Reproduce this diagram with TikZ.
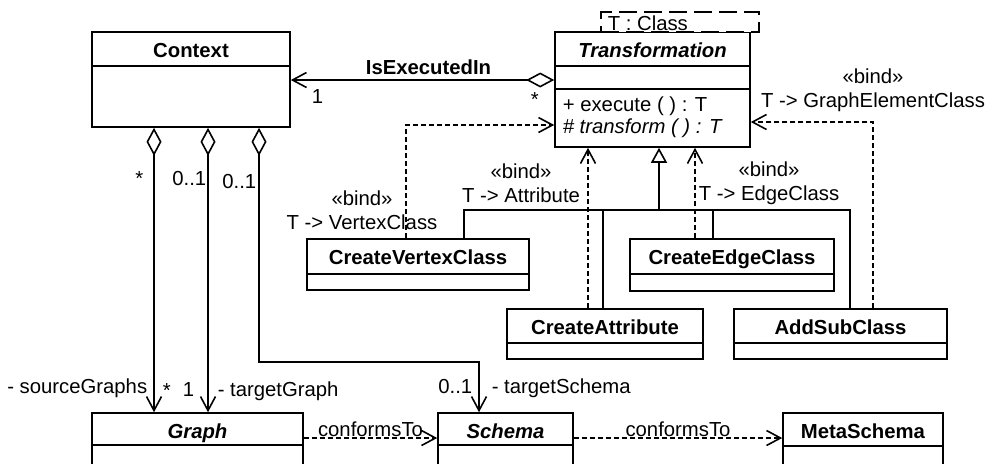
\documentclass[tikz,border=0pt]{standalone}
\usepackage{fontspec}
\setmainfont{Liberation Sans}
\usepackage{tikz}
\usetikzlibrary{arrows.meta,fit}

\begin{document}
\begin{tikzpicture}[x=0.5pt,y=-0.5pt,line width=0.8pt,
  every node/.style={font=\fontsize{10.15pt}{12pt}\selectfont,inner sep=0pt},
  cls/.style={draw,fill=white,inner sep=0pt},
  title/.style={anchor=base,yshift=-13pt},
  dep/.style={dash pattern=on 2.5pt off 1.5pt,-{Straight Barb[length=7pt,width=7.5pt]}},
  aggr/.style={{Diamond[open,length=14pt,width=7.5pt]}-{Straight Barb[length=7pt,width=7.5pt]}},
  gen/.style={-{Triangle[open,length=7.5pt,width=8pt]}}]
  \useasboundingbox (0,0) rectangle (989,463);
  \clip (0,0) rectangle (989,463);
  \node[cls,fit={(92,32) (290,127)}] (ctx) {};
  \draw (92,66) -- (290,66);
  \node[title] (ctxname) at (ctx.north) {\textbf{Context}};
  \node[cls,fit={(555,32) (750,147)}] (tr) {};
  \draw (555,66) -- (750,66);
  \draw (555,89) -- (750,89);
  \node[title] (trname) at (tr.north) {\textbf{\textit{Transformation}}};
  \node[anchor=base west] (opexec) at (562,111) {+ execute ( ) : T};
  \node[anchor=base west] (optrans) at (562,133) {\textit{\# transform ( ) : T}};
  \node[cls,dash pattern=on 9pt off 3.5pt,fit={(601,12) (759,32)}] (tbox) {};
  \node[anchor=base west] (tparam) at (607,30) {T : Class};
  \node[cls,fit={(307,239) (529,290)}] (cvc) {};
  \draw (307,274) -- (529,274);
  \node[title] (cvcname) at (cvc.north) {\textbf{CreateVertexClass}};
  \node[cls,fit={(630,239) (834,291)}] (cec) {};
  \draw (630,274) -- (834,274);
  \node[title] (cecname) at (cec.north) {\textbf{CreateEdgeClass}};
  \node[cls,fit={(507,309) (703,359)}] (ca) {};
  \draw (507,343) -- (703,343);
  \node[title] (caname) at (ca.north) {\textbf{CreateAttribute}};
  \node[cls,fit={(734,309) (947,359)}] (asc) {};
  \draw (734,343) -- (947,343);
  \node[title] (ascname) at (asc.north) {\textbf{AddSubClass}};
  \node[cls,fit={(92,413) (303,480)}] (graph) {};
  \draw (92,445) -- (303,445);
  \node[title] (graphname) at (graph.north) {\textbf{\textit{Graph}}};
  \node[cls,fit={(438,413) (573,480)}] (schema) {};
  \draw (438,445) -- (573,445);
  \node[title] (schemaname) at (schema.north) {\textbf{\textit{Schema}}};
  \node[cls,fit={(783,413) (943,480)}] (meta) {};
  \draw (783,446) -- (943,446);
  \node[title] (metaname) at (meta.north) {\textbf{MetaSchema}};

  \coordinate (ie) at (0,80);
  \draw[aggr] (tr.west |- ie) -- node[above=2.5pt,xshift=3pt] (ielabel) {\textbf{IsExecutedIn}} (ctx.east |- ie);
  \node[anchor=base west] (mctx) at (311,103) {1};
  \node[anchor=base west] (mtr) at (530,106) {*};

  \coordinate (a1) at (154,0);
  \coordinate (a2) at (208,0);
  \coordinate (a3) at (259,362);
  \coordinate (a4) at (479,362);
  \draw[aggr] (ctx.south -| a1) -- (graph.north -| a1);
  \draw[aggr] (ctx.south -| a2) -- (graph.north -| a2);
  \draw[aggr] (ctx.south -| a3) -- (a3) -- (a4) -- (schema.north -| a4);
  \node[anchor=base east] (ma1) at (144,185) {*};
  \node[anchor=base east] (ma2) at (207,185) {0..1};
  \node[anchor=base east] (ma3) at (257,188) {0..1};
  \node[anchor=base east] (rsrc) at (148,393) {- sourceGraphs};
  \node[anchor=base west] (msrc) at (162,397) {*};
  \node[anchor=base west] (mtgt) at (182,396) {1};
  \node[anchor=base west] (rtgt) at (217,396) {- targetGraph};
  \node[anchor=base east] (msch) at (473,393) {0..1};
  \node[anchor=base west] (rsch) at (491,393) {- targetSchema};

  \coordinate (b1) at (406,125);
  \coordinate (b2) at (588,0);
  \coordinate (b3) at (695,0);
  \coordinate (b4) at (873,122);
  \draw[dep] (cvc.north -| b1) -- (b1) -- (tr.west |- b1);
  \draw[dep] (ca.north -| b2) -- (tr.south -| b2);
  \draw[dep] (cec.north -| b3) -- (tr.south -| b3);
  \draw[dep] (asc.north -| b4) -- (b4) -- (tr.east |- b4);
  \node[align=center] (bindvc) at (362,210) {«bind»\\T -> VertexClass};
  \node[align=center] (bindat) at (521,183) {«bind»\\T -> Attribute};
  \node[align=center] (bindec) at (769,183) {«bind»\\T -> EdgeClass};
  \node[align=center] (bindge) at (873,90) {«bind»\\T -> GraphElementClass};

  \coordinate (g0) at (659,210);
  \coordinate (g1) at (464,210);
  \coordinate (g2) at (603,210);
  \coordinate (g3) at (713,210);
  \coordinate (g4) at (850,210);
  \draw[gen] (g0) -- (tr.south -| g0);
  \draw (cvc.north -| g1) -- (g1) -- (g4) -- (asc.north -| g4);
  \draw (ca.north -| g2) -- (g2);
  \draw (cec.north -| g3) -- (g3);

  \coordinate (cf) at (0,438);
  \draw[dep] (graph.east |- cf) -- node[above=0.5pt] (conf1) {conformsTo} (schema.west |- cf);
  \draw[dep] (schema.east |- cf) -- node[above=0.5pt] (conf2) {conformsTo} (meta.west |- cf);
\end{tikzpicture}
\end{document}
